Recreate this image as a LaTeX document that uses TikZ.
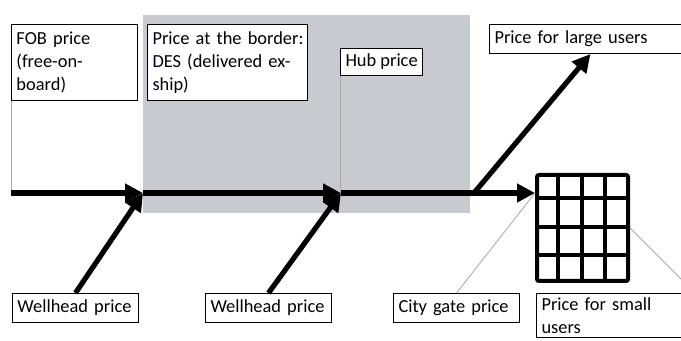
\documentclass[tikz,border=0pt]{standalone}
\usepackage{fontspec}
\setmainfont{Carlito}
\usetikzlibrary{shapes,arrows.meta}
\definecolor{borderzone}{RGB}{199,202,208}
\tikzstyle{price} = [draw, fill=white, rectangle, anchor=north west, align=left,
inner xsep=2.5pt, inner ysep=2pt, line width=0.5pt, font=\fontsize{9.2}{11.7}\selectfont]
\tikzstyle{oneline} = [price, text height=7pt, text depth=2.5pt, inner ysep=2.5pt]
\tikzstyle{flow} = [line width=2.6pt, ->]
\tikzstyle{callout} = [draw=gray!70, line width=0.4pt]
\tikzstyle{point} = [coordinate]

\begin{document}
\begin{tikzpicture}[x=0.5pt, y=-0.5pt, >={Triangle[length=9pt,width=9pt]}]
\useasboundingbox (0,0) rectangle (681,341);
\clip (0,0) rectangle (681,341);

% The shaded zone goes first, behind everything else
\node [fill=borderzone, anchor=north west, inner sep=0, minimum width=163.5pt,
minimum height=99pt] (zone) at (143,15) {};

% Points on the main line
\node [point] (start) at (11,193) {};
\node [point] (atborder) at (143,193) {};
\node [point] (athub) at (341,193) {};
\node [point] (fork) at (474,193) {};
\node [point] (gate) at (535,193) {};
\node [point] (beyond) at (700,298) {};

% The price boxes
\node [price, text width=58pt, minimum height=38pt] (fob) at (11,24) {FOB price\\(free-on-\\board)};
\node [price, text width=75pt, minimum height=38pt] (border) at (147,24)
  {\mbox{Price at the border:}\\\mbox{DES (delivered ex-}\\ship)};
\node [oneline, inner ysep=2pt] (hub) at (340,48) {Hub price};
\node [oneline, text width=96pt] (large) at (489,24) {Price for large users};
\node [oneline, text width=58pt] (well1) at (12,293) {Wellhead price};
\node [oneline, text width=58pt] (well2) at (205,293) {Wellhead price};
\node [oneline, text width=58pt] (citygate) at (393,293) {City gate price};
\node [price, text width=72pt] (small) at (536,293) {Price for small\\users};

% The grid of small users
\node [draw, line width=2pt, rounded corners=1pt, anchor=north west, inner sep=0,
minimum width=45.5pt, minimum height=53pt] (grid) at (535,173) {};
\foreach \gx in {558,582,605}
  \draw [line width=2pt] (\gx,173) -- (\gx,279);
\foreach \gy in {198,227,255}
  \draw [line width=2pt] (535,\gy) -- (626,\gy);

% Thin callout lines
\draw [callout] (fob.south west) -- (fob.south west |- start);
\draw [callout] (hub.south west) -- (hub.south west |- start);
\draw [callout] (citygate.north) -- (gate);
\draw [callout] (grid.east) -- (beyond);

% The gas flows: wellhead inputs first, so the main heads sit on top
\draw [flow] (well1.north) -- (atborder);
\draw [flow] (well2.north) -- (athub);
\draw [flow] (start) -- (atborder);
\draw [flow] (atborder) -- (athub);
\draw [flow] (athub) -- (gate);
\draw [flow] (fork) -- (large.south);
\end{tikzpicture}
\end{document}
